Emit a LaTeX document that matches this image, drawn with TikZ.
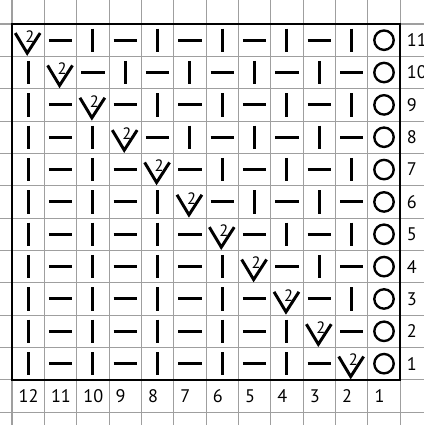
\documentclass[tikz,border=0pt]{standalone}
\usepackage{fontspec}
\setmainfont{PT Sans}
\begin{document}
\begin{tikzpicture}[x=1cm,y=-1cm,
  gridline/.style={draw=gray!75, line width=0.9pt},
  border/.style={draw=black, line width=2.2pt},
  sym/.style={draw=black, line width=2.6pt, line cap=butt},
  yo/.style={draw=black, line width=2.1pt},
  lbl/.style={anchor=west, inner sep=0pt, font=\fontsize{16}{16}\selectfont},
  two/.style={inner sep=0pt, font=\fontsize{14.5}{14.5}\selectfont},
]
\useasboundingbox (-0.371,-0.742) rectangle (12.736,12.396);
\begin{scope}
\clip (-0.371,-0.742) rectangle (12.736,12.396);
\foreach \x in {-1,...,13} \draw[gridline] (\x,-1) -- (\x,13);
\foreach \y in {-1,...,12} \draw[gridline] (-1,\y) -- (14,\y);
\end{scope}
\draw[border] (0,0) rectangle (12,11);
\foreach \m in {1,...,11} {
  \foreach \n in {1,...,12} {
    \pgfmathsetmacro\cx{12-\n+0.5}
    \pgfmathsetmacro\cy{11-\m+0.5}
    \pgfmathtruncatemacro\kind{\n==1 ? 0 : (\n==\m+1 ? 1 : (\n>\m+1 ? (mod(\n,2)==0 ? 2 : 3) : (mod(\n+\m,2)==1 ? 2 : 3)))}
    \ifcase\kind
      \draw[yo] (\cx,\cy) circle (0.30);
    \or
      \draw[sym, line join=miter] (\cx-0.40,\cy-0.22) -- (\cx-0.03,\cy+0.40) -- (\cx+0.37,\cy-0.22);
      \node[two] (two\m) at (\cx+0.05,\cy-0.11) {2};
    \or
      \draw[sym] (\cx,\cy-0.36) -- (\cx,\cy+0.36);
    \or
      \draw[sym] (\cx-0.36,\cy) -- (\cx+0.36,\cy);
    \fi
  }
}
\foreach \m in {1,...,11} \node[lbl] (row\m) at (12.2,11-\m+0.5) {\m};
\foreach \n in {1,...,12} \node[lbl] (col\n) at (12-\n+0.2,11.5) {\n};
\end{tikzpicture}
\end{document}
